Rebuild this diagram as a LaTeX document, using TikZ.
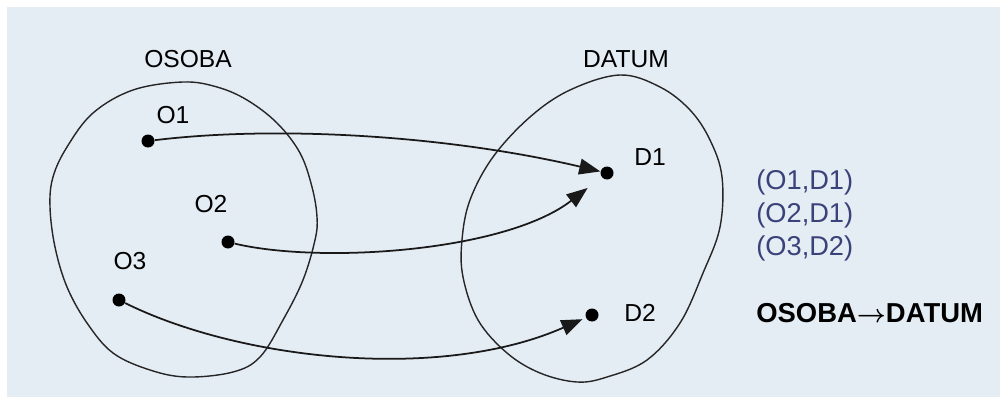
\documentclass[tikz,border=0pt]{standalone}
\usepackage{amsmath}
\usepackage{fontspec}
\setmainfont{Liberation Sans}
\usetikzlibrary{positioning,arrows.meta}
\definecolor{panelbg}{RGB}{228,236,244}
\definecolor{pairblue}{RGB}{58,66,122}

\begin{document}
\begin{tikzpicture}[x=0.02cm, y=-0.02cm,
  elem/.style={circle, fill=black, inner sep=0pt, minimum size=0.26cm},
  lbl/.style={font=\fontsize{14}{16}\selectfont, inner sep=0pt},
  pair/.style={font=\fontsize{15.5}{18}\selectfont, text=pairblue, inner sep=0pt},
  setline/.style={line width=0.8pt, black!85},
  link/.style={-{Triangle[length=12pt,width=9pt]}, line width=1pt, black!90}
]
% background panel
\fill[white] (0,0) rectangle (1000,399);
\fill[panelbg] (7,7) rectangle (1000,397);

% the two sets
\draw[setline] plot[smooth cycle, tension=0.6] coordinates {
  (183,82) (133,90) (93,113) (67,147) (53,177) (50,207) (55,247) (67,287)
  (87,323) (113,353) (150,370) (187,377) (233,372) (260,357) (283,320)
  (303,280) (315,240) (317,217) (312,187) (300,153) (277,123) (247,100) (217,87)};
\draw[setline] plot[smooth cycle, tension=0.6] coordinates {
  (620,75) (570,90) (530,117) (493,157) (470,200) (462,240) (463,277)
  (478,320) (507,353) (540,373) (577,382) (607,377) (647,360) (680,323)
  (703,273) (720,227) (722,177) (710,140) (690,110) (660,87)};

\node[lbl] (osoba) at (188,59) {OSOBA};
\node[lbl] (datum) at (626,59) {DATUM};

% elements
\node[elem] (o1) at (148,141) {};
\node[elem] (o2) at (228,242) {};
\node[elem] (o3) at (119,300) {};
\node[elem] (d1) at (607,173) {};
\node[elem] (d2) at (592,315) {};

\node[lbl] (o1lbl) at (173,115) {O1};
\node[lbl] (o2lbl) at (211,204) {O2};
\node[lbl] (o3lbl) at (130,261) {O3};
\node[lbl] (d1lbl) at (650,157) {D1};
\node[lbl] (d2lbl) at (640,313) {D2};

% mapping
\draw[link] (o1) .. controls (280,125) and (450,136) .. (d1);
\draw[link, shorten >=10pt] (o2) .. controls (320,264) and (505,252) .. (d1);
\draw[link, shorten >=2pt] (o3) .. controls (240,360) and (440,382) .. (d2);

% pairs
\node[pair, anchor=west] (p1) at (756,182) {(O1,D1)};
\node[pair, anchor=west] (p2) at (756,215) {(O2,D1)};
\node[pair, anchor=west] (p3) at (756,248) {(O3,D2)};
\node[lbl, anchor=west, font=\fontsize{15.6}{18}\selectfont\bfseries] (fd) at (756,313) {OSOBA$\boldsymbol{\rightarrow}$DATUM};
\end{tikzpicture}
\end{document}
